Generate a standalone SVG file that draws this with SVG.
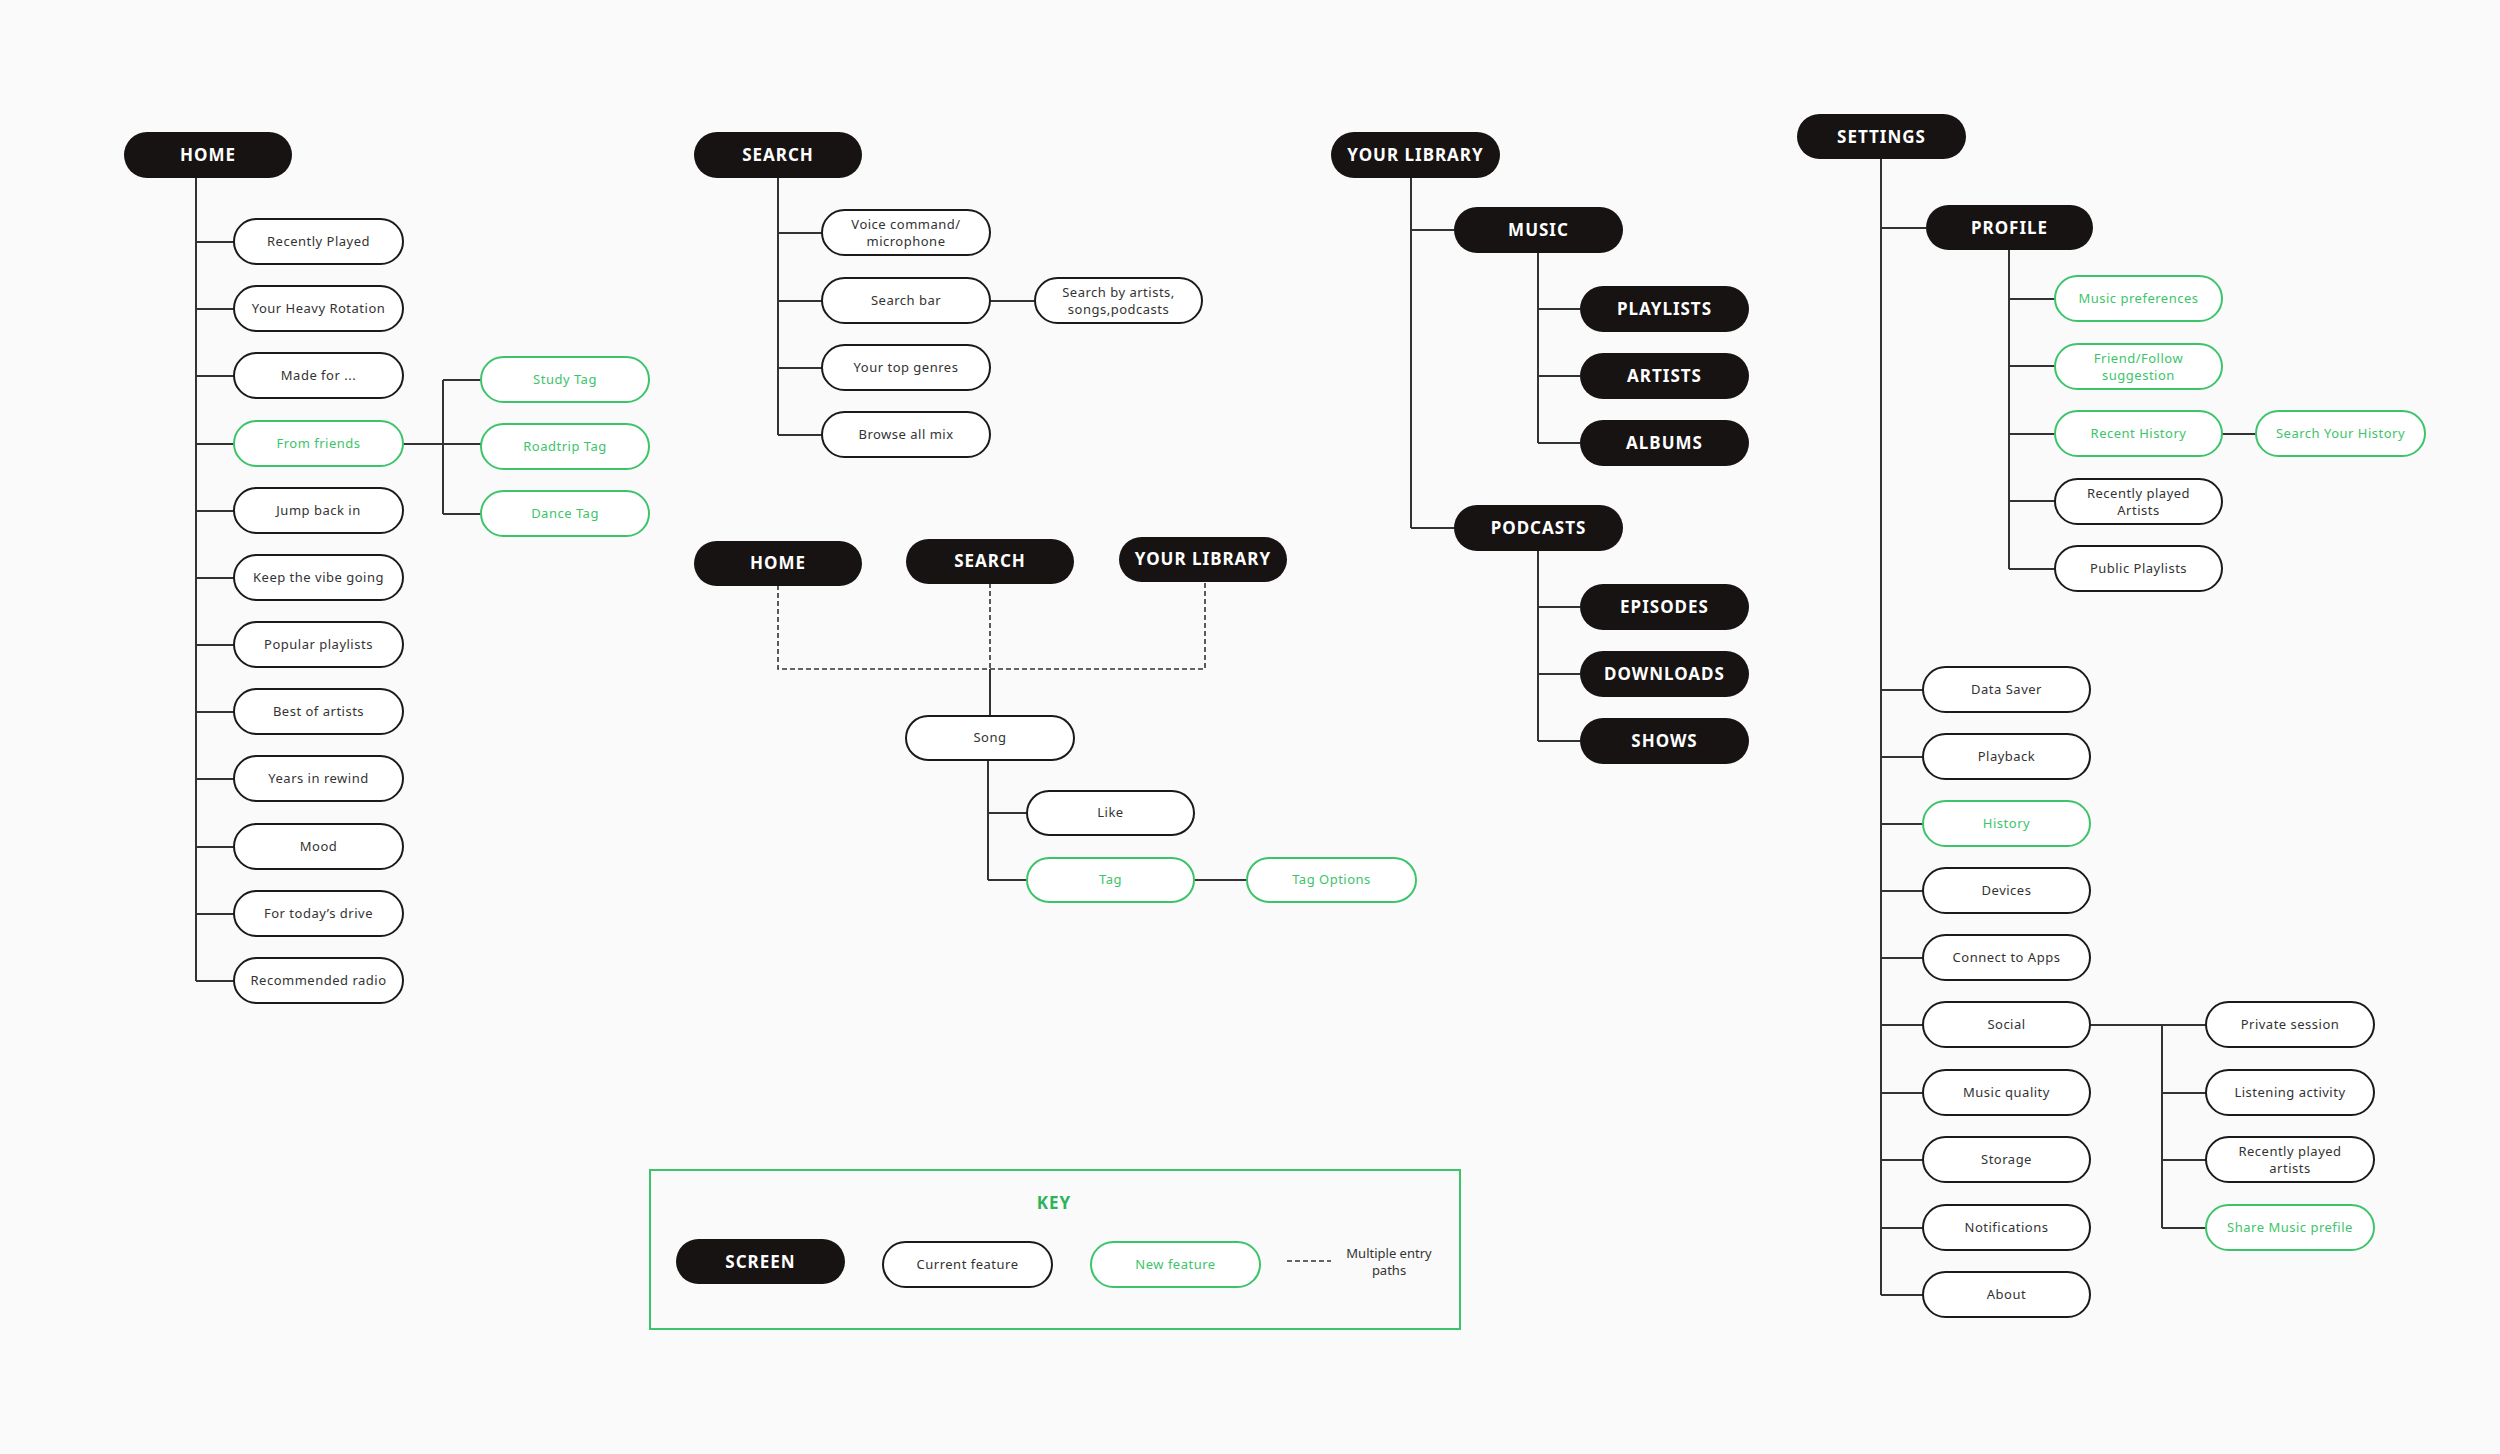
<svg xmlns="http://www.w3.org/2000/svg" width="2500" height="1454" viewBox="0 0 2500 1454">
<style>
.s rect{fill:#161312}
.s text{fill:#fff;font:bold 17px "Noto Sans",Lato,sans-serif;letter-spacing:1px;text-anchor:middle}
.c rect{fill:#fff;stroke:#1a1a1a;stroke-width:2}
.c text{fill:#333;font:13px "Noto Sans",Lato,sans-serif;letter-spacing:0.5px;text-anchor:middle}
.n rect{fill:#fff;stroke:#3dc46a;stroke-width:2}
.n text{fill:#3dc46a;font:13px "Noto Sans",Lato,sans-serif;letter-spacing:0.5px;text-anchor:middle}
#connectors path{fill:none;stroke:#333;stroke-width:2}
#connectors .d{stroke-dasharray:5 3;stroke-width:1.6}
</style>
<rect width="2500" height="1454" fill="#fafafa"/>
<g id="connectors">
<path d="M196 178V981M196 242h38M196 309h38M196 376h38M196 444h38M196 511h38M196 578h38M196 645h38M196 712h38M196 779h38M196 847h38M196 914h38M196 981h38"/>
<path d="M403 444h78M443 380V514M443 380h38M443 514h38"/>
<path d="M778 178V435M778 233h44M778 301h44M778 368h44M778 435h44M990 301h45"/>
<path d="M1411 178V528M1411 230h43M1411 528h43M1538 253V443M1538 309h42M1538 376h42M1538 443h42M1538 551V741M1538 607h42M1538 674h42M1538 741h42"/>
<path d="M1881 159V1295M1881 228h45M2009 250V569M2009 299h46M2009 366h46M2009 434h46M2009 501h46M2009 569h46M2222 434h34"/>
<path d="M1881 690h42M1881 757h42M1881 824h42M1881 891h42M1881 958h42M1881 1025h42M1881 1093h42M1881 1160h42M1881 1228h42M1881 1295h42"/>
<path d="M2090 1025h116M2162 1025V1228M2162 1093h44M2162 1160h44M2162 1228h44"/>
<path class="d" d="M778 585V669H1205V581M990 583V669"/>
<path d="M990 669V716M988 760V880M988 813h39M988 880h39M1194 880h53"/>
<path class="d" d="M1287 1261h44"/>
</g>
<g id="home" class="s"><rect x="124" y="132" width="168" height="46" rx="23"/><text x="208" y="161">HOME</text></g>
<g id="home-items" class="c">
<g id="recently-played"><rect x="234" y="219" width="169" height="45" rx="22.5"/><text x="318.5" y="246">Recently Played</text></g>
<g id="heavy-rotation"><rect x="234" y="286" width="169" height="45" rx="22.5"/><text x="318.5" y="313">Your Heavy Rotation</text></g>
<g id="made-for"><rect x="234" y="353" width="169" height="45" rx="22.5"/><text x="318.5" y="380">Made for ...</text></g>
<g id="jump-back"><rect x="234" y="488" width="169" height="45" rx="22.5"/><text x="318.5" y="515">Jump back in</text></g>
<g id="keep-vibe"><rect x="234" y="555" width="169" height="45" rx="22.5"/><text x="318.5" y="582">Keep the vibe going</text></g>
<g id="popular-playlists"><rect x="234" y="622" width="169" height="45" rx="22.5"/><text x="318.5" y="649">Popular playlists</text></g>
<g id="best-artists"><rect x="234" y="689" width="169" height="45" rx="22.5"/><text x="318.5" y="716">Best of artists</text></g>
<g id="years-rewind"><rect x="234" y="756" width="169" height="45" rx="22.5"/><text x="318.5" y="783">Years in rewind</text></g>
<g id="mood"><rect x="234" y="824" width="169" height="45" rx="22.5"/><text x="318.5" y="851">Mood</text></g>
<g id="todays-drive"><rect x="234" y="891" width="169" height="45" rx="22.5"/><text x="318.5" y="918">For today’s drive</text></g>
<g id="recommended-radio"><rect x="234" y="958" width="169" height="45" rx="22.5"/><text x="318.5" y="985">Recommended radio</text></g>
</g>
<g class="n">
<g id="from-friends"><rect x="234" y="421" width="169" height="45" rx="22.5"/><text x="318.5" y="448">From friends</text></g>
<g id="study-tag"><rect x="481" y="357" width="168" height="45" rx="22.5"/><text x="565" y="384">Study Tag</text></g>
<g id="roadtrip-tag"><rect x="481" y="424" width="168" height="45" rx="22.5"/><text x="565" y="451">Roadtrip Tag</text></g>
<g id="dance-tag"><rect x="481" y="491" width="168" height="45" rx="22.5"/><text x="565" y="518">Dance Tag</text></g>
</g>
<g id="search" class="s"><rect x="694" y="132" width="168" height="46" rx="23"/><text x="778" y="161">SEARCH</text></g>
<g class="c">
<g id="voice"><rect x="822" y="210" width="168" height="45" rx="22.5"/><text x="906" y="229">Voice command/</text><text x="906" y="246">microphone</text></g>
<g id="search-bar"><rect x="822" y="278" width="168" height="45" rx="22.5"/><text x="906" y="305">Search bar</text></g>
<g id="search-by"><rect x="1035" y="278" width="167" height="45" rx="22.5"/><text x="1118.5" y="297">Search by artists,</text><text x="1118.5" y="314">songs,podcasts</text></g>
<g id="top-genres"><rect x="822" y="345" width="168" height="45" rx="22.5"/><text x="906" y="372">Your top genres</text></g>
<g id="browse"><rect x="822" y="412" width="168" height="45" rx="22.5"/><text x="906" y="439">Browse all mix</text></g>
</g>
<g class="s">
<g id="library"><rect x="1331" y="132" width="169" height="46" rx="23"/><text x="1415.5" y="161">YOUR LIBRARY</text></g>
<g id="music"><rect x="1454" y="207" width="169" height="46" rx="23"/><text x="1538.5" y="236">MUSIC</text></g>
<g id="playlists"><rect x="1580" y="286" width="169" height="46" rx="23"/><text x="1664.5" y="315">PLAYLISTS</text></g>
<g id="artists"><rect x="1580" y="353" width="169" height="46" rx="23"/><text x="1664.5" y="382">ARTISTS</text></g>
<g id="albums"><rect x="1580" y="420" width="169" height="46" rx="23"/><text x="1664.5" y="449">ALBUMS</text></g>
<g id="podcasts"><rect x="1454" y="505" width="169" height="46" rx="23"/><text x="1538.5" y="534">PODCASTS</text></g>
<g id="episodes"><rect x="1580" y="584" width="169" height="46" rx="23"/><text x="1664.5" y="613">EPISODES</text></g>
<g id="downloads"><rect x="1580" y="651" width="169" height="46" rx="23"/><text x="1664.5" y="680">DOWNLOADS</text></g>
<g id="shows"><rect x="1580" y="718" width="169" height="46" rx="23"/><text x="1664.5" y="747">SHOWS</text></g>
<g id="settings"><rect x="1797" y="114" width="169" height="45" rx="22.5"/><text x="1881.5" y="143">SETTINGS</text></g>
<g id="profile"><rect x="1926" y="205" width="167" height="45" rx="22.5"/><text x="2009.5" y="234">PROFILE</text></g>
</g>
<g class="n">
<g id="music-prefs"><rect x="2055" y="276" width="167" height="45" rx="22.5"/><text x="2138.5" y="303">Music preferences</text></g>
<g id="friend-follow"><rect x="2055" y="344" width="167" height="45" rx="22.5"/><text x="2138.5" y="363">Friend/Follow</text><text x="2138.5" y="380">suggestion</text></g>
<g id="recent-history"><rect x="2055" y="411" width="167" height="45" rx="22.5"/><text x="2138.5" y="438">Recent History</text></g>
<g id="search-history"><rect x="2256" y="411" width="169" height="45" rx="22.5"/><text x="2340.5" y="438">Search Your History</text></g>
<g id="history"><rect x="1923" y="801" width="167" height="45" rx="22.5"/><text x="2006.5" y="828">History</text></g>
<g id="share-profile"><rect x="2206" y="1205" width="168" height="45" rx="22.5"/><text x="2290" y="1232">Share Music prefile</text></g>
</g>
<g class="c">
<g id="recently-played-artists"><rect x="2055" y="479" width="167" height="45" rx="22.5"/><text x="2138.5" y="498">Recently played</text><text x="2138.5" y="515">Artists</text></g>
<g id="public-playlists"><rect x="2055" y="546" width="167" height="45" rx="22.5"/><text x="2138.5" y="573">Public Playlists</text></g>
<g id="data-saver"><rect x="1923" y="667" width="167" height="45" rx="22.5"/><text x="2006.5" y="694">Data Saver</text></g>
<g id="playback"><rect x="1923" y="734" width="167" height="45" rx="22.5"/><text x="2006.5" y="761">Playback</text></g>
<g id="devices"><rect x="1923" y="868" width="167" height="45" rx="22.5"/><text x="2006.5" y="895">Devices</text></g>
<g id="connect-apps"><rect x="1923" y="935" width="167" height="45" rx="22.5"/><text x="2006.5" y="962">Connect to Apps</text></g>
<g id="social"><rect x="1923" y="1002" width="167" height="45" rx="22.5"/><text x="2006.5" y="1029">Social</text></g>
<g id="music-quality"><rect x="1923" y="1070" width="167" height="45" rx="22.5"/><text x="2006.5" y="1097">Music quality</text></g>
<g id="storage"><rect x="1923" y="1137" width="167" height="45" rx="22.5"/><text x="2006.5" y="1164">Storage</text></g>
<g id="notifications"><rect x="1923" y="1205" width="167" height="45" rx="22.5"/><text x="2006.5" y="1232">Notifications</text></g>
<g id="about"><rect x="1923" y="1272" width="167" height="45" rx="22.5"/><text x="2006.5" y="1299">About</text></g>
<g id="private-session"><rect x="2206" y="1002" width="168" height="45" rx="22.5"/><text x="2290" y="1029">Private session</text></g>
<g id="listening-activity"><rect x="2206" y="1070" width="168" height="45" rx="22.5"/><text x="2290" y="1097">Listening activity</text></g>
<g id="recently-played-artists-2"><rect x="2206" y="1137" width="168" height="45" rx="22.5"/><text x="2290" y="1156">Recently played</text><text x="2290" y="1173">artists</text></g>
</g>
<g class="s">
<g id="home-2"><rect x="694" y="541" width="168" height="45" rx="22.5"/><text x="778" y="569">HOME</text></g>
<g id="search-2"><rect x="906" y="539" width="168" height="45" rx="22.5"/><text x="990" y="567">SEARCH</text></g>
<g id="library-2"><rect x="1119" y="537" width="168" height="45" rx="22.5"/><text x="1203" y="565">YOUR LIBRARY</text></g>
</g>
<g class="c">
<g id="song"><rect x="906" y="716" width="168" height="44" rx="22"/><text x="990" y="742">Song</text></g>
<g id="like"><rect x="1027" y="791" width="167" height="44" rx="22"/><text x="1110.5" y="817">Like</text></g>
</g>
<g class="n">
<g id="tag"><rect x="1027" y="858" width="167" height="44" rx="22"/><text x="1110.5" y="884">Tag</text></g>
<g id="tag-options"><rect x="1247" y="858" width="169" height="44" rx="22"/><text x="1331.5" y="884">Tag Options</text></g>
</g>
<g id="key">
<rect x="650" y="1170" width="810" height="159" fill="none" stroke="#3dc46a" stroke-width="2"/>
<text x="1054" y="1209" fill="#2bb45a" font-family="Noto Sans, Lato, sans-serif" font-weight="bold" font-size="17" text-anchor="middle" letter-spacing="1">KEY</text>
<g class="s"><rect x="676" y="1239" width="169" height="45" rx="22.5"/><text x="760.5" y="1268">SCREEN</text></g>
<g class="c"><rect x="883" y="1242" width="169" height="45" rx="22.5"/><text x="967.5" y="1269">Current feature</text></g>
<g class="n"><rect x="1091" y="1242" width="169" height="45" rx="22.5"/><text x="1175.5" y="1269">New feature</text></g>
<text x="1389" y="1258" fill="#333" font-family="Noto Sans, Lato, sans-serif" font-size="13" text-anchor="middle">Multiple entry</text>
<text x="1389" y="1275" fill="#333" font-family="Noto Sans, Lato, sans-serif" font-size="13" text-anchor="middle">paths</text>
</g>
</svg>
